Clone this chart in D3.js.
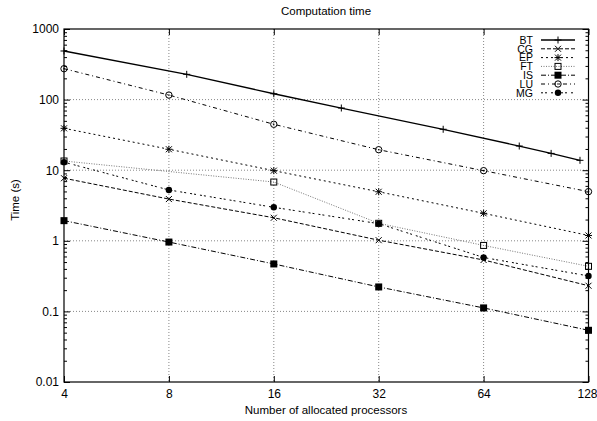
<!DOCTYPE html>
<html>
<head>
<meta charset="utf-8">
<script src="https://cdn.jsdelivr.net/npm/d3@7"></script>
<style>
  body { margin: 0; background: #fff; }
  text { font-family: "Liberation Sans", Arial, Helvetica, sans-serif; fill: #000; }
</style>
</head>
<body>
<div id="chart"></div>
<script>
// ---- DATA ----
let procs = [4, 8, 16, 32, 64, 128];
let btProcs = [4, 9, 16, 25, 49, 81, 100, 121];
let ftProcs = [4, 16, 32, 64, 128];

let bt = [488, 228, 121, 76, 38, 22, 17.3, 13.8];
let cg = [7.7, 3.9, 2.12, 1.02, 0.535, 0.231];
let ep = [39.2, 19.8, 9.85, 4.95, 2.45, 1.19];
let ft = [13.5, 6.8, 1.77, 0.86, 0.435];
let is = [1.93, 0.96, 0.47, 0.222, 0.112, 0.054];
let lu = [274, 116, 44.7, 19.5, 9.85, 4.97];
let mg = [13, 5.25, 2.98, 1.75, 0.58, 0.318];

let yTicks = [0.01, 0.1, 1, 10, 100, 1000];
let xTicks = [4, 8, 16, 32, 64, 128];

// series table built from the arrays above
let series = [
  {name: "BT", x: btProcs, y: bt, dash: null,        color: "#000", mark: "plus"},
  {name: "CG", x: procs,   y: cg, dash: "4,2",       color: "#000", mark: "cross"},
  {name: "EP", x: procs,   y: ep, dash: "2,3",       color: "#000", mark: "star"},
  {name: "FT", x: ftProcs, y: ft, dash: "1,1.5",     color: "#777", mark: "box"},
  {name: "IS", x: procs,   y: is, dash: "5,2,1,2",   color: "#000", mark: "fbox"},
  {name: "LU", x: procs,   y: lu, dash: "4,3,1,3",   color: "#000", mark: "circle"},
  {name: "MG", x: procs,   y: mg, dash: "2,2,2,4",   color: "#000", mark: "fcircle"}
];

// ---- CHART AREA ----
let W = 597, H = 421;
let plot = {left: 64, right: 588.5, top: 29, bottom: 382};

let svg = d3.select("#chart").append("svg")
    .attr("width", W)
    .attr("height", H);

let x = d3.scaleLog().base(2).domain([4, 128]).range([plot.left, plot.right]);
let y = d3.scaleLog().domain([0.01, 1000]).range([plot.bottom, plot.top]);

// grid (dotted)
let grid = svg.append("g").attr("class", "grid");
grid.selectAll(".gx")
    .data(xTicks.slice(1, -1))
    .enter().append("line")
    .attr("x1", d => x(d)).attr("x2", d => x(d))
    .attr("y1", plot.top).attr("y2", plot.bottom)
    .attr("stroke", "#888").attr("stroke-width", 1)
    .attr("stroke-dasharray", "1,2");
grid.selectAll(".gy")
    .data(yTicks.slice(1, -1))
    .enter().append("line")
    .attr("x1", plot.left).attr("x2", plot.right)
    .attr("y1", d => y(d)).attr("y2", d => y(d))
    .attr("stroke", "#888").attr("stroke-width", 1)
    .attr("stroke-dasharray", "1,2");

// minor y ticks
let minor = [];
yTicks.slice(0, -1).forEach(t => { for (let k = 2; k <= 9; k++) minor.push(t * k); });

// ---- AXES ----
let fmtY = d => d < 1 ? String(d) : d3.format("d")(d);

svg.append("g")
    .attr("transform", "translate(" + plot.left + ",0)")
    .call(d3.axisLeft(y).tickValues(yTicks).tickFormat(fmtY).tickSizeInner(-6).tickSizeOuter(0).tickPadding(5))
    .call(g => g.selectAll("text").style("font-size", "12px"));

svg.append("g")
    .attr("transform", "translate(" + plot.right + ",0)")
    .call(d3.axisRight(y).tickValues(yTicks).tickFormat("").tickSizeInner(-6).tickSizeOuter(0));

svg.append("g")
    .attr("transform", "translate(" + plot.left + ",0)")
    .call(d3.axisLeft(y).tickValues(minor).tickFormat("").tickSizeInner(-3).tickSizeOuter(0));

svg.append("g")
    .attr("transform", "translate(" + plot.right + ",0)")
    .call(d3.axisRight(y).tickValues(minor).tickFormat("").tickSizeInner(-3).tickSizeOuter(0));

svg.append("g")
    .attr("transform", "translate(0," + plot.bottom + ")")
    .call(d3.axisBottom(x).tickValues(xTicks).tickFormat(d3.format("d")).tickSizeInner(-6).tickSizeOuter(0).tickPadding(7))
    .call(g => g.selectAll("text").style("font-size", "12px"))
    // last label sits at the right edge of the page
    .call(g => g.selectAll(".tick").filter(d => d === 128).select("text")
        .attr("text-anchor", "end").attr("x", W - plot.right));

svg.append("g")
    .attr("transform", "translate(0," + plot.top + ")")
    .call(d3.axisTop(x).tickValues(xTicks).tickFormat("").tickSizeInner(-6).tickSizeOuter(0));

svg.selectAll(".domain").remove();
svg.selectAll(".tick line").attr("stroke", "#000");

// border
svg.append("rect")
    .attr("x", plot.left).attr("y", plot.top)
    .attr("width", plot.right - plot.left).attr("height", plot.bottom - plot.top)
    .attr("fill", "none").attr("stroke", "#000").attr("stroke-width", 1.2);

// ---- LINES ----
let line = d3.line().x(d => x(d[0])).y(d => y(d[1]));

function drawMark(g, type, cx, cy, color) {
  let s = 3.5;
  if (type === "plus" || type === "star") {
    g.append("path").attr("d", `M${cx - s},${cy}H${cx + s}M${cx},${cy - s}V${cy + s}`)
      .attr("stroke", color).attr("stroke-width", 1);
  }
  if (type === "cross" || type === "star") {
    g.append("path").attr("d", `M${cx - 3},${cy - 3}L${cx + 3},${cy + 3}M${cx - 3},${cy + 3}L${cx + 3},${cy - 3}`)
      .attr("stroke", color).attr("stroke-width", 1);
  }
  if (type === "box") {
    g.append("rect").attr("x", cx - 3).attr("y", cy - 3).attr("width", 6).attr("height", 6)
      .attr("fill", "none").attr("stroke", "#000").attr("stroke-width", 1);
  }
  if (type === "fbox") {
    g.append("rect").attr("x", cx - 3.5).attr("y", cy - 3.5).attr("width", 7).attr("height", 7)
      .attr("fill", color);
  }
  if (type === "circle") {
    g.append("circle").attr("cx", cx).attr("cy", cy).attr("r", 3.2)
      .attr("fill", "none").attr("stroke", color).attr("stroke-width", 1);
    g.append("circle").attr("cx", cx).attr("cy", cy).attr("r", 0.8).attr("fill", color);
  }
  if (type === "fcircle") {
    g.append("circle").attr("cx", cx).attr("cy", cy).attr("r", 3.2).attr("fill", color);
  }
}

series.forEach(s => {
  let pts = s.x.map((v, i) => [v, s.y[i]]);
  let g = svg.append("g").attr("class", "series");
  g.append("path")
      .datum(pts)
      .attr("d", line)
      .attr("fill", "none")
      .attr("stroke", s.color)
      .attr("stroke-width", s.name === "BT" ? 1.3 : 1)
      .attr("stroke-dasharray", s.dash);
  pts.forEach(p => drawMark(g, s.mark, x(p[0]), y(p[1]), "#000"));
});

// ---- LEGEND ----
let lg = svg.append("g").attr("class", "legend");
series.forEach((s, i) => {
  let ly = 40 + i * 8.8;
  lg.append("text")
      .attr("x", 533).attr("y", ly + 3.8)
      .attr("text-anchor", "end")
      .style("font-size", "10.5px")
      .text(s.name);
  lg.append("line")
      .attr("x1", 541).attr("x2", 575)
      .attr("y1", ly).attr("y2", ly)
      .attr("stroke", s.color)
      .attr("stroke-width", s.name === "BT" ? 1.3 : 1)
      .attr("stroke-dasharray", s.dash);
  drawMark(lg, s.mark, 558, ly, "#000");
});

// ---- TITLES ----
svg.append("text")
    .attr("x", 326).attr("y", 15)
    .attr("text-anchor", "middle")
    .style("font-size", "11.5px")
    .text("Computation time");

svg.append("text")
    .attr("x", 326).attr("y", 414)
    .attr("text-anchor", "middle")
    .style("font-size", "11.5px")
    .text("Number of allocated processors");

svg.append("text")
    .attr("transform", "translate(19,200) rotate(-90)")
    .attr("text-anchor", "middle")
    .style("font-size", "11.5px")
    .text("Time (s)");
</script>
</body>
</html>
